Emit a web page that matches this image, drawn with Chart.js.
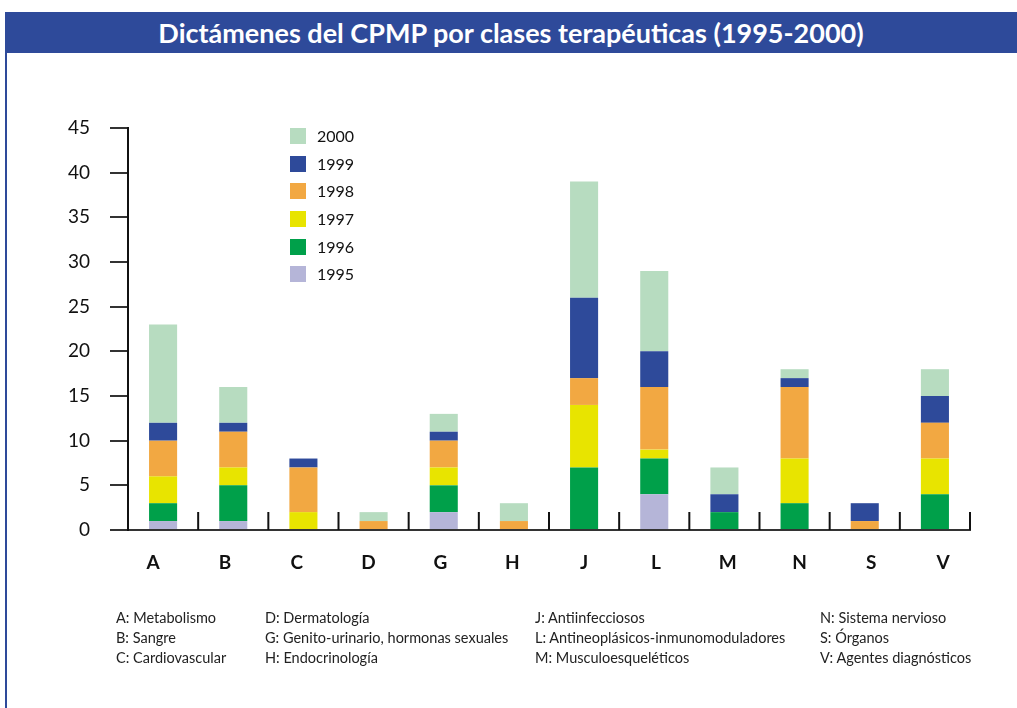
<!DOCTYPE html>
<html>
<head>
<meta charset="utf-8">
<script src="https://cdn.jsdelivr.net/npm/chart.js@4"></script>
<style>
  body { margin: 0; background: #fff; font-family: Lato, sans-serif; }
  #wrap { position: relative; width: 1017px; height: 708px; overflow: hidden; }
  #title { position: absolute; left: 5px; top: 12px; width: 1012px; height: 41px; background: #2e4a9a;
           color: #fff; font-weight: bold; font-size: 27px; line-height: 41px; text-align: center; }
  #border { position: absolute; left: 5px; top: 53px; width: 2px; height: 655px; background: #2e4a9a; }
  canvas { position: absolute; left: 0; top: 0; }
  #legend { position: absolute; left: 290px; top: 128px; }
  .item { height: 27.7px; position: relative; font-size: 16px; color: #111; }
  .item span.box { position: absolute; left: 0; top: 0; width: 16px; height: 16px; }
  .item span.lbl { position: absolute; left: 27px; top: -2px; line-height: 20px; }
  .note { position: absolute; font-size: 14.5px; color: #222; line-height: 20px; white-space: nowrap; }
</style>
</head>
<body>
<div id="wrap">
  <div id="title">Dictámenes del CPMP por clases terapéuticas (1995-2000)</div>
  <div id="border"></div>
  <canvas id="chart" width="1017" height="708"></canvas>
  <div id="legend"></div>
  <div id="notes"></div>
</div>
<script>
const categories = ['A', 'B', 'C', 'D', 'G', 'H', 'J', 'L', 'M', 'N', 'S', 'V'];
const years = ['1995', '1996', '1997', '1998', '1999', '2000'];
const colors = ['#b5b5d8', '#00a04a', '#e8e400', '#f2a842', '#2e4a9a', '#b7dcc0'];

const v1995 = [1, 1, 0, 0, 2, 0, 0, 4, 0, 0, 0, 0];
const v1996 = [2, 4, 0, 0, 3, 0, 7, 4, 2, 3, 0, 4];
const v1997 = [3, 2, 2, 0, 2, 0, 7, 1, 0, 5, 0, 4];
const v1998 = [4, 4, 5, 1, 3, 1, 3, 7, 0, 8, 1, 4];
const v1999 = [2, 1, 1, 0, 1, 0, 9, 4, 2, 1, 2, 3];
const v2000 = [11, 4, 0, 1, 2, 2, 13, 9, 3, 1, 0, 3];
const series = [v1995, v1996, v1997, v1998, v1999, v2000];

const yTicks = [0, 5, 10, 15, 20, 25, 30, 35, 40, 45];

const notes = [
  ['A: Metabolismo', 'B: Sangre', 'C: Cardiovascular'],
  ['D: Dermatología', 'G: Genito-urinario, hormonas sexuales', 'H: Endocrinología'],
  ['J: Antiinfecciosos', 'L: Antineoplásicos-inmunomoduladores', 'M: Musculoesqueléticos'],
  ['N: Sistema nervioso', 'S: Órganos', 'V: Agentes diagnósticos']
];
const noteX = [116, 265, 535, 820];

// separator ticks between categories, pointing up from the x axis
const sepTicks = {
  id: 'sepTicks',
  afterDatasetsDraw(chart) {
    const x = chart.scales.x, y = chart.scales.y;
    const ctx = chart.ctx;
    const base = y.getPixelForValue(0);
    const half = (x.getPixelForValue(1) - x.getPixelForValue(0)) / 2;
    ctx.save();
    ctx.strokeStyle = '#111';
    ctx.lineWidth = 2;
    for (let i = 0; i < categories.length; i++) {
      const px = x.getPixelForValue(i) + half;
      ctx.beginPath();
      ctx.moveTo(px, base);
      ctx.lineTo(px, base - 18);
      ctx.stroke();
    }
    ctx.restore();
  }
};

new Chart(document.getElementById('chart'), {
  type: 'bar',
  data: {
    labels: categories,
    datasets: years.map((yr, i) => ({
      label: yr,
      data: series[i],
      backgroundColor: colors[i],
      barPercentage: 0.4,
      categoryPercentage: 1
    }))
  },
  options: {
    responsive: false,
    animation: false,
    layout: { padding: { left: 0, top: 128, right: 47, bottom: 0 } },
    plugins: { legend: { display: false }, tooltip: { enabled: false } },
    scales: {
      x: {
        stacked: true,
        afterFit: s => { s.height = 2; },
        border: { color: '#333', width: 2 },
        grid: { display: false, drawTicks: false },
        ticks: { display: false }
      },
      // letter labels sit on a slightly wider spacing than the bars
      x2: {
        type: 'linear',
        position: 'bottom',
        offset: false,
        min: -0.35,
        max: 11.375,
        afterFit: s => { s.height = 176; },
        afterBuildTicks: s => { s.ticks = categories.map((c, i) => ({ value: i })); },
        border: { display: false },
        grid: { display: false, drawTicks: false, offset: false },
        ticks: {
          padding: 19,
          color: '#111',
          font: { family: 'Lato', size: 19, weight: 'bold' },
          callback: v => categories[v]
        }
      },
      y: {
        stacked: true,
        min: 0,
        max: 45,
        afterFit: s => { s.width = 128; },
        afterBuildTicks: s => { s.ticks = yTicks.map(v => ({ value: v })); },
        border: { color: '#111', width: 2 },
        grid: { drawOnChartArea: false, tickLength: 18, tickColor: '#333', lineWidth: 2 },
        ticks: { padding: 20, color: '#111', font: { family: 'Lato', size: 19 } }
      }
    }
  },
  plugins: [sepTicks]
});

// legend, newest year on top
const legend = document.getElementById('legend');
for (let i = years.length - 1; i >= 0; i--) {
  const d = document.createElement('div');
  d.className = 'item';
  d.innerHTML = '<span class="box" style="background:' + colors[i] + '"></span><span class="lbl">' + years[i] + '</span>';
  legend.appendChild(d);
}

const notesDiv = document.getElementById('notes');
notes.forEach((col, c) => {
  col.forEach((t, r) => {
    const d = document.createElement('div');
    d.className = 'note';
    d.style.left = noteX[c] + 'px';
    d.style.top = (608 + r * 20) + 'px';
    d.textContent = t;
    notesDiv.appendChild(d);
  });
});
</script>
</body>
</html>
